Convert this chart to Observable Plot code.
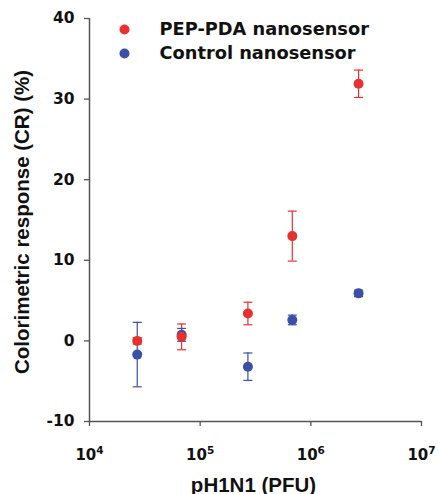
<!DOCTYPE html>
<html><head><meta charset="utf-8">
<script src="https://cdn.jsdelivr.net/npm/d3@7"></script>
<script src="https://cdn.jsdelivr.net/npm/@observablehq/plot@0.6"></script>
<style>
body{margin:0;background:#fff;}
#wrap{width:438px;height:494px;overflow:hidden;}
</style>
</head><body><div id="wrap"></div>
<script>
const pfu = [2.7e4, 6.8e4, 2.7e5, 6.8e5, 2.7e6];
const pepMean = [0.0, 0.5, 3.4, 13.0, 31.9];
const pepErr = [0.4, 1.6, 1.4, 3.1, 1.7];
const ctrlMean = [-1.7, 0.75, -3.2, 2.6, 5.9];
const ctrlErr = [4.0, 0.8, 1.7, 0.6, 0.4];
const seriesNames = ["PEP-PDA nanosensor", "Control nanosensor"];
const seriesColors = ["#e8302e", "#3b4fa6"];
const yTicks = [-10, 0, 10, 20, 30, 40];
const xTicks = [1e4, 1e5, 1e6, 1e7];
const xLabel = "pH1N1 (PFU)";
const yLabel = "Colorimetric response (CR) (%)";

const wide = '"DejaVu Sans", Verdana, sans-serif';
const arial = '"Liberation Sans", Arial, sans-serif';

const rows = [
  ...pfu.map((x, i) => ({x, m: ctrlMean[i], e: ctrlErr[i], s: seriesNames[1]})),
  ...pfu.map((x, i) => ({x, m: pepMean[i], e: pepErr[i], s: seriesNames[0]}))
];
rows.forEach(d => { d.lo = d.m - d.e; d.hi = d.m + d.e; });

const capSymbol = {draw(ctx, size) { const r = Math.sqrt(size / Math.PI); ctx.moveTo(-r, 0); ctx.lineTo(r, 0); }};

const legendMarks = seriesNames.flatMap((name, i) => [
  Plot.dot([name], {frameAnchor: "top-left", dx: 35, dy: 11 + 24 * i, r: 5, fill: seriesColors[i], stroke: "none"}),
  Plot.text([name], {frameAnchor: "top-left", dx: 70, dy: 11 + 24 * i, text: d => d, fontSize: 17.8, fontWeight: "bold", fontFamily: wide, fill: "#111", textAnchor: "start", lineAnchor: "middle"})
]);

const chart = Plot.plot({
  width: 438, height: 494,
  marginLeft: 89, marginRight: 17, marginTop: 18, marginBottom: 73,
  style: {fontFamily: arial, fontWeight: "bold", background: "#fff", color: "#111"},
  x: {type: "log", domain: [1e4, 1e7], axis: null},
  y: {domain: [-10, 40], axis: null},
  color: {domain: seriesNames, range: seriesColors},
  marks: [
    Plot.axisY({ticks: yTicks, tickSize: 5, tickPadding: 10, fontSize: 15.5, fontWeight: "bold", fontFamily: wide, fill: "#111", stroke: "#555", label: null, tickFormat: d => String(d)}),
    Plot.axisX({ticks: xTicks, tickSize: 5, tickPadding: 23, fontSize: 15, fontWeight: "bold", fontFamily: wide, fill: "#111", stroke: "#555", label: null, tickFormat: d => String(Math.round(Math.log10(d)))}),
    Plot.ruleX([1e4], {stroke: "#555", strokeWidth: 1.5}),
    Plot.ruleY([-10], {stroke: "#555", strokeWidth: 1.5}),
    Plot.ruleX(rows, {x: "x", y1: "lo", y2: "hi", stroke: "s", strokeWidth: 1.2}),
    Plot.dot(rows, {x: "x", y: "lo", symbol: capSymbol, r: 4.5, stroke: "s", fill: "none", strokeWidth: 1.2}),
    Plot.dot(rows, {x: "x", y: "hi", symbol: capSymbol, r: 4.5, stroke: "s", fill: "none", strokeWidth: 1.2}),
    Plot.dot(rows, {x: "x", y: "m", r: 5, fill: "s", stroke: "none"}),
    Plot.text([yLabel], {frameAnchor: "left", rotate: -90, dx: -67, dy: 2, fontSize: 20.5, fontWeight: "bold", fill: "#111", textAnchor: "middle", lineAnchor: "middle"}),
    Plot.text([xLabel], {frameAnchor: "bottom", dy: 70, dx: -2, fontSize: 20.5, fontWeight: "bold", fill: "#111", textAnchor: "middle", lineAnchor: "bottom"}),
    ...legendMarks
  ]
});

document.getElementById("wrap").appendChild(chart);

d3.select(chart).selectAll('[aria-label="y-axis tick"] path, [aria-label="x-axis tick"] path').attr("stroke", "#555").attr("stroke-width", 1.3);

d3.select(chart).selectAll('[aria-label="x-axis tick label"] text').each(function () {
  const e = this.textContent;
  this.textContent = "";
  d3.select(this).append("tspan").text("10");
  d3.select(this).append("tspan").attr("font-size", "10.5px").attr("dy", "-0.6em").text(e);
});
</script>
</body></html>
